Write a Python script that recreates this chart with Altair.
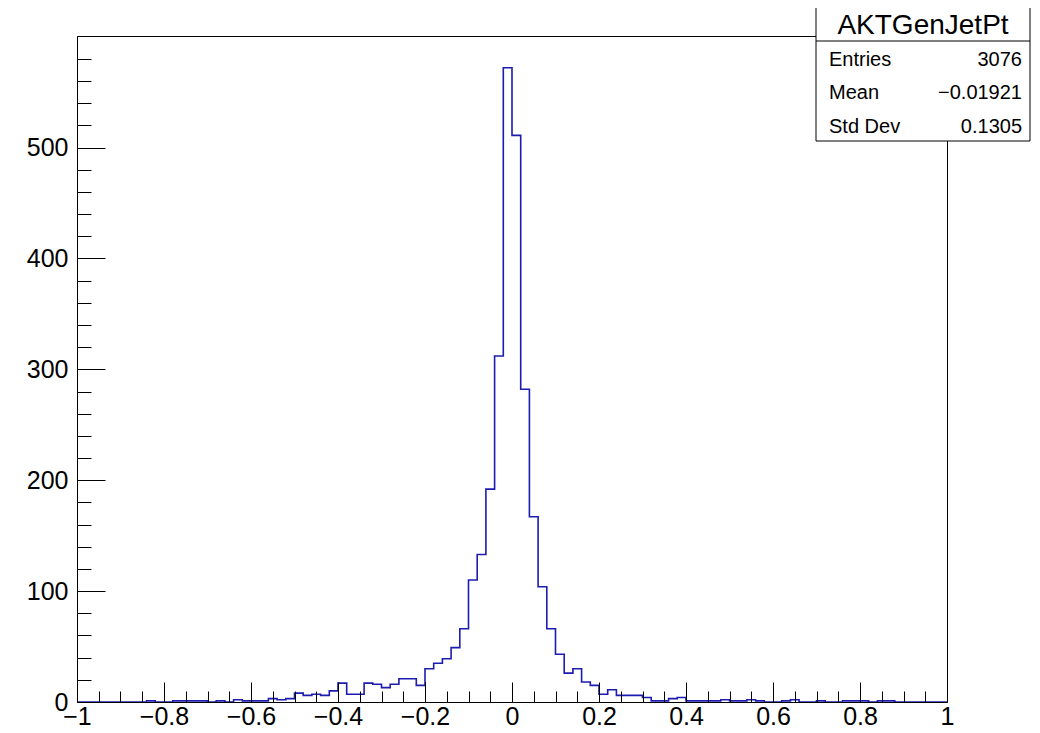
import altair as alt
import pandas as pd

FONT = "Liberation Sans"

# histogram bin contents (100 bins of width 0.02 from -1 to 1)
counts = [
    0, 0, 0, 0, 0, 0, 0, 0, 1, 0,
    0, 1, 1, 1, 1, 0, 1, 0, 2, 1,
    1, 1, 3, 2, 3, 8, 6, 7, 6, 10,
    17, 7, 7, 17, 16, 13, 16, 21, 21, 15,
    30, 35, 39, 49, 66, 110, 133, 192, 312, 572,
    511, 282, 167, 104, 66, 43, 26, 30, 18, 15,
    7, 11, 6, 6, 6, 4, 1, 1, 3, 4,
    1, 1, 1, 1, 2, 1, 1, 2, 1, 0,
    0, 1, 2, 0, 0, 1, 0, 0, 1, 1,
    1, 0, 1, 1, 0, 0, 0, 0, 0, 0,
]
x_min_edge = -1.0
x_max_edge = 1.0
bin_width = 0.02
edges = [round(x_min_edge + bin_width * i, 2) for i in range(len(counts) + 1)]

x_major = [-1, -0.8, -0.6, -0.4, -0.2, 0, 0.2, 0.4, 0.6, 0.8, 1]
x_minor = [round(-1 + 0.05 * i, 2) for i in range(41)]
y_major = [0, 100, 200, 300, 400, 500]
y_minor = [20 * i for i in range(30)]
y_top = 600.6

stats_title = "AKTGenJetPt"
stats_labels = ["Entries", "Mean", "Std Dev"]
stats_values = ["3076", "\u22120.01921", "0.1305"]

df = pd.DataFrame({"edge": edges, "count": counts + [counts[-1]]})

xs = alt.Scale(domain=[x_min_edge, x_max_edge], nice=False, zero=False)
ys = alt.Scale(domain=[0, y_top], nice=False)

x_lab = alt.Axis(orient="bottom", values=x_major, format="~g", labelFontSize=25,
                 labelFont=FONT, labelColor="black", labelPadding=2,
                 labelFlush=False, labelOverlap=False, labelBound=False,
                 ticks=False, tickSize=0, domain=True, domainColor="black",
                 domainWidth=1, grid=False, title="", zindex=2)
y_lab = alt.Axis(orient="left", values=y_major, format="d", labelFontSize=25,
                 labelFont=FONT, labelColor="black", labelPadding=9,
                 labelFlush=False, labelOverlap=False, labelBound=False,
                 ticks=False, tickSize=0, domain=True, domainColor="black",
                 domainWidth=1, grid=False, title="", zindex=2)

def tick_axis(vals, size, orient):
    return alt.Axis(orient=orient, values=vals, labels=False, domain=False,
                    ticks=True, tickSize=size, tickColor="black", tickWidth=1,
                    offset=-size, grid=False, title="", zindex=2)

base = alt.Chart(df)

hist = base.mark_line(interpolate="step-after", color="#1c1cb0",
                      strokeWidth=1.6).encode(
    x=alt.X("edge:Q", scale=xs, axis=x_lab),
    y=alt.Y("count:Q", scale=ys, axis=y_lab),
)
major = base.mark_line(opacity=0).encode(
    x=alt.X("edge:Q", scale=xs, axis=tick_axis(x_major, 20, "bottom")),
    y=alt.Y("count:Q", scale=ys, axis=tick_axis(y_major, 28, "left")),
)
minor = base.mark_line(opacity=0).encode(
    x=alt.X("edge:Q", scale=xs, axis=tick_axis(x_minor, 11, "bottom")),
    y=alt.Y("count:Q", scale=ys, axis=tick_axis(y_minor, 14, "left")),
)

one = alt.Chart(pd.DataFrame({"k": [0]}))
box = one.mark_rect(fill="white", stroke="black", strokeWidth=1).encode(
    x=alt.value(739), x2=alt.value(953), y=alt.value(-29), y2=alt.value(105))
divider = one.mark_rule(color="black", strokeWidth=1).encode(
    x=alt.value(739), x2=alt.value(953), y=alt.value(5))
title_t = one.mark_text(text=stats_title, font=FONT, fontSize=28, align="center",
                        baseline="alphabetic", color="black").encode(
    x=alt.value(846), y=alt.value(-2))

row_y = [23.5, 57, 90.5]
texts = []
for lab, val, yy in zip(stats_labels, stats_values, row_y):
    texts.append(one.mark_text(text=lab, font=FONT, fontSize=20, align="left",
                               baseline="middle", color="black").encode(
        x=alt.value(752), y=alt.value(yy)))
    texts.append(one.mark_text(text=val, font=FONT, fontSize=20, align="right",
                               baseline="middle", color="black").encode(
        x=alt.value(945), y=alt.value(yy)))

chart = alt.layer(hist, major, minor, box, divider, title_t, *texts).resolve_axis(
    x="independent", y="independent"
).properties(
    width=870, height=666,
    padding={"left": 69, "top": 28, "right": 85, "bottom": 23},
    autosize=alt.AutoSizeParams(type="none"),
    background="white",
).configure_view(stroke="black", strokeWidth=1)

chart.save("out.html", embed_options={"renderer": "svg", "actions": False})
